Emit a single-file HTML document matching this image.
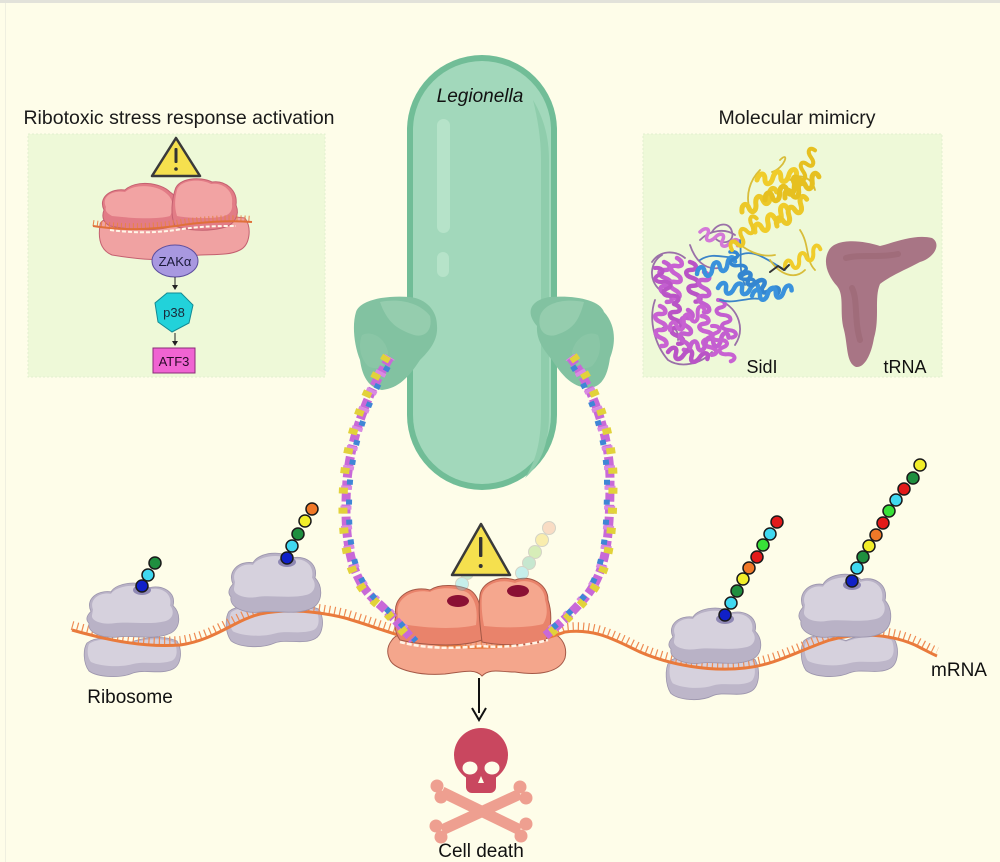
<!DOCTYPE html>
<html><head><meta charset="utf-8">
<style>
html,body{margin:0;padding:0;background:#fefde9;}
svg{display:block;}
text{font-family:"Liberation Sans",Arial,sans-serif;}
</style></head>
<body>
<svg width="1000" height="862" viewBox="0 0 1000 862" xmlns="http://www.w3.org/2000/svg">
<defs>
  <path id="coil" d="M0,0 c3,-7 9,-7 8,0 c-1,7 5,7 8,0 c3,-7 9,-7 8,0 c-1,7 5,7 8,0 c3,-7 9,-7 8,0" fill="none"/>
  <path id="grTop" d="M8,30 C2,18 14,8 28,10 C34,0 58,-2 66,6 C78,2 94,10 90,24 C98,32 98,46 88,52 C72,60 50,54 36,56 C20,58 4,52 6,42 C2,38 4,34 8,30 Z"/>
  <path id="grTopHi" d="M10,28 C6,18 16,10 28,12 C34,3 58,1 65,8 C77,4 90,11 87,24 C92,30 90,38 82,40 C66,44 46,40 32,42 C20,44 8,40 9,34 Z"/>
  <path id="grBot" d="M4,8 C14,0 32,4 46,8 C60,2 80,0 94,6 C100,16 98,30 90,34 C78,40 62,34 50,38 C36,44 14,42 6,36 C0,28 0,14 4,8 Z"/>
  <path id="grBotHi" d="M6,9 C16,2 32,5 46,9 C60,4 80,2 92,8 C95,16 94,24 88,26 C76,30 62,26 50,29 C36,33 16,31 8,27 C4,22 4,14 6,9 Z"/>
  <path id="pilL" d="M390,357 C370,390 352,430 347,480 C343,540 350,580 378,603 C392,615 402,628 413,640"/>
  <path id="pilR" d="M570,357 C595,390 610,440 610,480 C610,540 606,575 583,600 C570,615 555,628 545,636"/>
</defs>

<!-- background & frame -->
<rect x="0" y="0" width="1000" height="862" fill="#fefde9"/>
<rect x="0" y="0" width="1000" height="3" fill="#e2e2da"/>
<rect x="5" y="3" width="1" height="859" fill="#efefe0"/>

<!-- Titles -->
<text x="179" y="124" font-size="19.5" text-anchor="middle" fill="#1a1a1a">Ribotoxic stress response activation</text>
<text x="797" y="124" font-size="19.5" text-anchor="middle" fill="#1a1a1a">Molecular mimicry</text>

<!-- Panels -->
<rect x="28" y="134" width="297" height="243" fill="#eef9d8" stroke="#e3f0d0" stroke-width="1" stroke-dasharray="2 2"/>
<rect x="643" y="134" width="299" height="243" fill="#eef9d8" stroke="#e3f0d0" stroke-width="1" stroke-dasharray="2 2"/>

<!-- Left panel content -->
<polygon points="176,138 200,176 152,176" fill="#f5e04e" stroke="#3a3a3a" stroke-width="2.5" stroke-linejoin="round"/>
<rect x="174.5" y="148" width="3" height="15" fill="#333" rx="1"/>
<circle cx="176" cy="169" r="1.8" fill="#333"/>

<path d="M100,225 C100,215 130,217 150,218 C175,214 215,214 245,218 C252,228 250,245 240,250 C225,258 200,252 180,258 C160,262 130,258 112,255 C100,250 98,238 100,225 Z" fill="#f0a2a2" stroke="#c46070" stroke-width="1"/>
<path d="M104,210 C98,198 110,188 125,190 C135,180 160,182 170,192 C180,198 180,215 175,225 C160,232 130,230 110,226 C102,222 102,215 104,210 Z" fill="#e27c86" stroke="#c46070" stroke-width="1"/>
<path d="M106,207 C101,197 112,190 125,192 C135,183 158,185 167,194 C174,200 174,210 170,216 C155,220 130,218 112,216 C106,213 105,210 106,207 Z" fill="#f2a3a3"/>
<path d="M175,190 C178,178 200,176 212,182 C225,180 238,190 236,205 C240,215 235,225 222,228 C205,232 185,230 175,226 C170,215 172,200 175,190 Z" fill="#e27c86" stroke="#c46070" stroke-width="1"/>
<path d="M177,190 C180,180 200,178 211,184 C223,182 234,191 232,204 C233,212 228,216 220,217 C205,219 188,218 177,216 C174,206 175,198 177,190 Z" fill="#f2a3a3"/>
<path d="M93,226 C130,232 160,228 176,226 C200,222 230,220 252,222" fill="none" stroke="#e8824a" stroke-width="6" stroke-dasharray="1 3" transform="translate(0,-3)"/>
<path d="M93,226 C130,232 160,228 176,226 C200,222 230,220 252,222" fill="none" stroke="#e0703a" stroke-width="2"/>
<path d="M110,230 C140,234 160,232 176,230 C200,226 220,226 236,226" fill="none" stroke="#fff6e8" stroke-width="2" stroke-dasharray="4 2"/>

<ellipse cx="175" cy="261" rx="23" ry="16" fill="#a898e0" stroke="#5d4f9e" stroke-width="1"/>
<text x="175" y="266" font-size="13" text-anchor="middle" fill="#1a1a3a">ZAKα</text>
<line x1="175" y1="277" x2="175" y2="287" stroke="#222" stroke-width="1"/>
<polygon points="172,285 178,285 175,290" fill="#222"/>
<polygon points="181,293 193,305 189,323 172,332 158,322 155,303 167,293" fill="#22d2da" stroke="#138a94" stroke-width="1"/>
<text x="174" y="317" font-size="13" text-anchor="middle" fill="#1a2a3a">p38</text>
<line x1="175" y1="333" x2="175" y2="343" stroke="#222" stroke-width="1"/>
<polygon points="172,341 178,341 175,346" fill="#222"/>
<rect x="153" y="348" width="42" height="25" fill="#f064d2" stroke="#8a2a78" stroke-width="1"/>
<text x="174" y="366" font-size="13" text-anchor="middle" fill="#2a0a2a">ATF3</text>

<!-- Right panel: protein -->
<g fill="none" stroke-linecap="round" stroke-linejoin="round">
  <path d="M662,255 C650,262 648,280 660,290 M655,300 C648,320 655,345 668,360 C680,368 700,365 712,352 M700,240 C710,230 725,228 735,235 M712,232 C718,222 730,222 732,232 C735,242 722,246 715,238 M690,245 C695,260 705,270 718,268 M720,300 C740,310 745,330 735,345 M660,330 C668,322 680,328 678,340 M652,262 C660,250 675,250 685,258" stroke="#9a70a8" stroke-width="1.8"/>
  <use href="#coil" transform="translate(664,262) rotate(86)" stroke="#c35fd0" stroke-width="4.5"/>
  <use href="#coil" transform="translate(677,258) rotate(94)" stroke="#c862d2" stroke-width="4.5"/>
  <use href="#coil" transform="translate(690,262) rotate(82)" stroke="#b954c6" stroke-width="4.5"/>
  <use href="#coil" transform="translate(704,272) rotate(90)" stroke="#c35fd0" stroke-width="4.5"/>
  <use href="#coil" transform="translate(660,306) rotate(88)" stroke="#c862d2" stroke-width="4.5"/>
  <use href="#coil" transform="translate(674,304) rotate(84)" stroke="#b954c6" stroke-width="4.5"/>
  <use href="#coil" transform="translate(688,310) rotate(96)" stroke="#c35fd0" stroke-width="4.5"/>
  <use href="#coil" transform="translate(702,316) rotate(76)" stroke="#c862d2" stroke-width="4.5"/>
  <use href="#coil" transform="translate(668,352) rotate(10)" stroke="#b954c6" stroke-width="4.5"/>
  <use href="#coil" transform="translate(690,348) rotate(-15)" stroke="#c35fd0" stroke-width="4.5"/>
  <use href="#coil" transform="translate(712,326) rotate(62)" stroke="#c862d2" stroke-width="4"/>
  <use href="#coil" transform="translate(700,232) rotate(20)" stroke="#d478d8" stroke-width="3.5"/>
  <use href="#coil" transform="translate(655,268) rotate(60)" stroke="#b954c6" stroke-width="4"/>
  <use href="#coil" transform="translate(718,300) rotate(70)" stroke="#c35fd0" stroke-width="4"/>
  <use href="#coil" transform="translate(670,330) rotate(-30)" stroke="#c862d2" stroke-width="4"/>
  <path d="M700,260 C715,250 730,262 740,255 C755,248 770,262 785,270 M720,300 C735,305 750,295 765,300 M740,240 C742,255 738,270 745,285" stroke="#3b84c8" stroke-width="1.8"/>
  <use href="#coil" transform="translate(697,274) rotate(-18)" stroke="#3a92dc" stroke-width="4.5"/>
  <use href="#coil" transform="translate(718,288) rotate(2)" stroke="#3a92dc" stroke-width="4.5"/>
  <use href="#coil" transform="translate(742,275) rotate(28)" stroke="#3486d0" stroke-width="4.5"/>
  <use href="#coil" transform="translate(752,296) rotate(-8)" stroke="#3a92dc" stroke-width="4.5"/>
  <use href="#coil" transform="translate(730,252) rotate(58)" stroke="#3486d0" stroke-width="3.5"/>
  <path d="M780,160 C790,150 785,168 772,172 M760,170 C750,180 745,195 750,210 M800,230 C810,245 805,260 815,270 M735,240 C745,250 760,258 775,255 M790,180 C800,172 812,178 815,190 M770,260 C780,275 795,280 805,270" stroke="#d8bd3a" stroke-width="1.8"/>
  <use href="#coil" transform="translate(742,212) rotate(-30)" stroke="#ecc828" stroke-width="5"/>
  <use href="#coil" transform="translate(755,232) rotate(-36)" stroke="#f0cc2a" stroke-width="5"/>
  <use href="#coil" transform="translate(765,200) rotate(-24)" stroke="#e6c020" stroke-width="5"/>
  <use href="#coil" transform="translate(777,226) rotate(-42)" stroke="#ecc828" stroke-width="5"/>
  <use href="#coil" transform="translate(757,180) rotate(-8)" stroke="#f0cc2a" stroke-width="5"/>
  <use href="#coil" transform="translate(785,198) rotate(-32)" stroke="#e6c020" stroke-width="5"/>
  <use href="#coil" transform="translate(732,250) rotate(-52)" stroke="#ecc828" stroke-width="4"/>
  <use href="#coil" transform="translate(785,268) rotate(-28)" stroke="#f0cc2a" stroke-width="4"/>
  <use href="#coil" transform="translate(795,185) rotate(-60)" stroke="#e6c020" stroke-width="4"/>
  <path d="M770,272 l8,-6 l6,4 l5,-5" stroke="#333" stroke-width="2"/>
</g>
<!-- tRNA -->
<path d="M829,250 C836,238 862,240 880,246 C896,242 915,234 932,238 C942,244 934,258 920,262 C905,270 890,276 880,284 C874,298 880,318 874,338 C871,356 864,368 856,367 C846,363 848,346 844,330 C839,312 845,296 837,286 C828,276 822,262 829,250 Z" fill="#a87585"/>
<path d="M846,258 C860,254 880,258 898,254 M852,288 C858,300 854,320 860,340" fill="none" stroke="#98636f" stroke-width="6" opacity="0.5" stroke-linecap="round"/>
<text x="762" y="373" font-size="18" text-anchor="middle" fill="#111">SidI</text>
<text x="905" y="373" font-size="18" text-anchor="middle" fill="#111">tRNA</text>

<!-- Legionella -->
<rect x="407" y="55" width="150" height="435" rx="75" ry="75" fill="#71bd97"/>
<rect x="413" y="61" width="138" height="423" rx="69" ry="69" fill="#a2d8bb"/>
<path d="M533,100 C545,120 549,140 549,160 L549,415 C549,445 540,465 525,478 C540,455 541,430 541,410 L541,160 C541,140 538,120 533,100 Z" fill="#8fcdac"/>
<rect x="437" y="119" width="13" height="114" rx="6.5" fill="#b6e3c9"/>
<rect x="437" y="252" width="12" height="25" rx="6" fill="#b6e3c9"/>
<text x="480" y="102" font-size="19" font-style="italic" text-anchor="middle" fill="#111">Legionella</text>

<!-- Secretion systems (in front of body) -->
<g>
  <path d="M356,312 C360,300 385,295 410,297 C426,299 437,310 437,326 C438,340 430,350 420,360 C410,375 400,388 382,390 C368,388 362,375 360,360 C354,345 352,325 356,312 Z" fill="#82c2a1"/>
  <path d="M380,302 C400,298 420,303 430,316 C433,330 425,338 414,335 C400,330 388,325 380,302 Z" fill="#95cdae"/>
  <path d="M362,335 C372,330 385,338 388,352 C388,365 378,372 368,366 C360,358 358,345 362,335 Z" fill="#8ac6a6"/>
  <path d="M604,312 C600,300 575,295 550,297 C534,299 523,310 537,326 C536,340 544,350 552,360 C562,375 572,388 590,388 C604,386 608,372 610,358 C616,343 616,325 604,312 Z" fill="#82c2a1"/>
  <path d="M584,302 C564,298 544,303 540,316 C537,330 545,338 556,335 C570,330 578,325 584,302 Z" fill="#95cdae"/>
  <path d="M598,335 C588,330 575,338 572,352 C572,365 582,372 592,366 C600,358 602,345 598,335 Z" fill="#8ac6a6"/>
</g>

<!-- Gray ribosomes: bottom subunits -->
<g fill="#bdb6c9" stroke="#9c95ad" stroke-width="0.8">
  <use href="#grBot" transform="translate(83,635) scale(1.0,1.0)"/>
  <use href="#grBot" transform="translate(225,603) scale(1.0,1.05)"/>
  <use href="#grBot" transform="translate(665,653) scale(0.96,1.12)"/>
  <use href="#grBot" transform="translate(800,632) scale(1.0,1.07)"/>
</g>
<g fill="#d6d1dd">
  <use href="#grBotHi" transform="translate(83,635)"/>
  <use href="#grBotHi" transform="translate(225,603) scale(1.0,1.05)"/>
  <use href="#grBotHi" transform="translate(665,653) scale(0.96,1.12)"/>
  <use href="#grBotHi" transform="translate(800,632) scale(1.0,1.07)"/>
</g>

<!-- Center ribosome bottom -->
<path d="M392,640 C400,628 430,632 450,630 C465,628 475,632 480,636 C490,630 520,628 545,632 C560,632 568,645 565,658 C560,672 540,676 515,672 C500,672 490,668 482,676 C475,668 462,672 445,674 C420,676 395,670 390,660 C386,652 388,645 392,640 Z" fill="#f4a68c" stroke="#a45846" stroke-width="1"/>

<!-- mRNA -->
<path d="M72,630 C100,638 140,648 180,645 C215,640 235,620 260,614 C290,608 320,612 345,618 C380,628 410,642 450,646 C490,650 530,645 565,632 C595,628 615,640 640,652 C670,665 710,672 745,668 C775,665 800,650 830,640 C860,632 890,634 915,645 C925,650 932,654 937,656" fill="none" stroke="#ee8a52" stroke-width="9" stroke-dasharray="1.2 4" transform="translate(0,-4.5)"/>
<path d="M72,630 C100,638 140,648 180,645 C215,640 235,620 260,614 C290,608 320,612 345,618 C380,628 410,642 450,646 C490,650 530,645 565,632 C595,628 615,640 640,652 C670,665 710,672 745,668 C775,665 800,650 830,640 C860,632 890,634 915,645 C925,650 932,654 937,656" fill="none" stroke="#e97a3c" stroke-width="3"/>

<!-- Gray ribosomes: top subunits -->
<g fill="#b9b2c6" stroke="#9c95ad" stroke-width="0.8">
  <use href="#grTop" transform="translate(83,582) scale(1.0,0.98)"/>
  <use href="#grTop" transform="translate(225,552) scale(1.0,1.07)"/>
  <use href="#grTop" transform="translate(665,607) scale(1.0,1.0)"/>
  <use href="#grTop" transform="translate(795,573) scale(1.0,1.14)"/>
</g>
<g fill="#d6d1dd">
  <use href="#grTopHi" transform="translate(83,582) scale(1.0,0.98)"/>
  <use href="#grTopHi" transform="translate(225,552) scale(1.0,1.07)"/>
  <use href="#grTopHi" transform="translate(665,607) scale(1.0,1.0)"/>
  <use href="#grTopHi" transform="translate(795,573) scale(1.0,1.14)"/>
</g>

<!-- Peptide beads -->
<g stroke="#1a1a1a" stroke-width="1.5">
  <ellipse cx="142" cy="590" rx="9" ry="5" fill="#8f88b4" stroke="none"/>
  <circle cx="155" cy="563" r="6" fill="#1f8f3f"/>
  <circle cx="148" cy="575" r="6" fill="#40d8f0"/>
  <circle cx="142" cy="586" r="6" fill="#1020c8"/>

  <ellipse cx="287" cy="562" rx="9" ry="5" fill="#8f88b4" stroke="none"/>
  <circle cx="312" cy="509" r="6" fill="#f07828"/>
  <circle cx="305" cy="521" r="6" fill="#f2ee2a"/>
  <circle cx="298" cy="534" r="6" fill="#1f8f3f"/>
  <circle cx="292" cy="546" r="6" fill="#40d8f0"/>
  <circle cx="287" cy="558" r="6" fill="#1020c8"/>

  <ellipse cx="725" cy="619" rx="9" ry="5" fill="#8f88b4" stroke="none"/>
  <circle cx="777" cy="522" r="6" fill="#e21a1a"/>
  <circle cx="770" cy="534" r="6" fill="#40d8f0"/>
  <circle cx="763" cy="545" r="6" fill="#38e038"/>
  <circle cx="757" cy="557" r="6" fill="#e21a1a"/>
  <circle cx="749" cy="568" r="6" fill="#f07828"/>
  <circle cx="743" cy="579" r="6" fill="#f2ee2a"/>
  <circle cx="737" cy="591" r="6" fill="#1f8f3f"/>
  <circle cx="731" cy="603" r="6" fill="#40d8f0"/>
  <circle cx="725" cy="615" r="6" fill="#1020c8"/>

  <ellipse cx="852" cy="585" rx="9" ry="5" fill="#8f88b4" stroke="none"/>
  <circle cx="920" cy="465" r="6" fill="#f2ee2a"/>
  <circle cx="913" cy="478" r="6" fill="#1f8f3f"/>
  <circle cx="904" cy="489" r="6" fill="#e21a1a"/>
  <circle cx="896" cy="500" r="6" fill="#40d8f0"/>
  <circle cx="889" cy="511" r="6" fill="#38e038"/>
  <circle cx="883" cy="523" r="6" fill="#e21a1a"/>
  <circle cx="876" cy="535" r="6" fill="#f07828"/>
  <circle cx="869" cy="546" r="6" fill="#f2ee2a"/>
  <circle cx="863" cy="557" r="6" fill="#1f8f3f"/>
  <circle cx="857" cy="568" r="6" fill="#40d8f0"/>
  <circle cx="852" cy="581" r="6" fill="#1020c8"/>
</g>

<!-- Center ribosome top subunits -->
<path d="M396,615 C392,598 410,585 430,590 C440,583 460,585 470,590 C480,596 484,615 482,640 C460,648 420,645 400,640 C394,632 394,622 396,615 Z" fill="#e9836b" stroke="#a45846" stroke-width="1"/>
<path d="M398,614 C395,600 411,588 430,592 C440,586 459,588 468,593 C476,600 478,612 476,625 C455,630 425,628 402,624 C398,620 397,617 398,614 Z" fill="#f5a78e"/>
<path d="M480,595 C482,582 500,575 515,580 C530,574 548,584 548,600 C552,612 552,628 546,640 C530,646 500,646 482,642 C480,625 478,610 480,595 Z" fill="#e9836b" stroke="#a45846" stroke-width="1"/>
<path d="M482,596 C484,584 500,578 515,583 C529,577 545,586 545,600 C548,610 547,618 543,624 C528,628 503,628 484,626 C482,615 481,605 482,596 Z" fill="#f5a78e"/>
<path d="M400,642 C430,650 460,648 480,646 C500,648 525,646 548,640" fill="none" stroke="#fff4e6" stroke-width="2.5" stroke-dasharray="5 2"/>
<ellipse cx="458" cy="601" rx="11" ry="6" fill="#8b1034"/>
<ellipse cx="518" cy="591" rx="11" ry="6" fill="#8b1034"/>
<!-- faded beads -->
<g opacity="0.35" stroke="#888" stroke-width="1">
  <circle cx="549" cy="528" r="6.5" fill="#f0a080"/>
  <circle cx="542" cy="540" r="6.5" fill="#f0d040"/>
  <circle cx="535" cy="552" r="6.5" fill="#90d060"/>
  <circle cx="529" cy="563" r="6.5" fill="#60c0a0"/>
  <circle cx="522" cy="573" r="6.5" fill="#60d8f0"/>
  <circle cx="482" cy="550" r="6.5" fill="#f0c040"/>
  <circle cx="473" cy="562" r="6.5" fill="#90d060"/>
  <circle cx="467" cy="573" r="6.5" fill="#60c0a0"/>
  <circle cx="462" cy="584" r="6.5" fill="#60d8f0"/>
</g>
<!-- center warning -->
<polygon points="481,524 510,575 452,575" fill="#f5e04e" stroke="#3a3a3a" stroke-width="2.5" stroke-linejoin="round"/>
<rect x="479" y="537" width="3.4" height="20" fill="#333" rx="1"/>
<circle cx="480.7" cy="566" r="2" fill="#333"/>

<!-- Pili -->
<g fill="none">
  <use href="#pilL" stroke="#c869d8" stroke-width="9" stroke-dasharray="9 3"/>
  <use href="#pilL" stroke="#d98ae2" stroke-width="11" stroke-dasharray="4 16" stroke-dashoffset="3"/>
  <use href="#pilL" stroke="#e2d23a" stroke-width="9" stroke-dasharray="6 14" transform="translate(-3,-1)"/>
  <use href="#pilL" stroke="#3f86d6" stroke-width="6" stroke-dasharray="5 15" stroke-dashoffset="10" transform="translate(3,1)"/>
  <use href="#pilR" stroke="#c869d8" stroke-width="9" stroke-dasharray="9 3"/>
  <use href="#pilR" stroke="#d98ae2" stroke-width="11" stroke-dasharray="4 16" stroke-dashoffset="3"/>
  <use href="#pilR" stroke="#e2d23a" stroke-width="9" stroke-dasharray="6 14" transform="translate(3,-1)"/>
  <use href="#pilR" stroke="#3f86d6" stroke-width="6" stroke-dasharray="5 15" stroke-dashoffset="10" transform="translate(-3,1)"/>
</g>

<!-- Labels -->
<text x="130" y="703" font-size="19" text-anchor="middle" fill="#111">Ribosome</text>
<text x="959" y="676" font-size="19" text-anchor="middle" fill="#111">mRNA</text>

<!-- Arrow to death -->
<line x1="479" y1="678" x2="479" y2="713" stroke="#111" stroke-width="2"/>
<path d="M472,708 L479,720 L486,708" fill="none" stroke="#111" stroke-width="2"/>

<!-- Skull and crossbones -->
<g fill="#ee9f90">
  <line x1="442" y1="792" x2="520" y2="830" stroke="#ee9f90" stroke-width="11"/>
  <circle cx="437" cy="786" r="6.5"/><circle cx="441" cy="797" r="6.5"/>
  <circle cx="521" cy="836" r="6.5"/><circle cx="526" cy="824" r="6.5"/>
  <line x1="520" y1="794" x2="442" y2="830" stroke="#ee9f90" stroke-width="11"/>
  <circle cx="520" cy="787" r="6.5"/><circle cx="526" cy="798" r="6.5"/>
  <circle cx="436" cy="826" r="6.5"/><circle cx="441" cy="837" r="6.5"/>
</g>
<ellipse cx="481" cy="755" rx="27" ry="27" fill="#c9475f"/>
<rect x="466" y="770" width="30" height="23" rx="6" fill="#c9475f"/>
<ellipse cx="470" cy="768" rx="7.5" ry="6.5" fill="#fefde9"/>
<ellipse cx="492" cy="768" rx="7.5" ry="6.5" fill="#fefde9"/>
<path d="M481,776 L478,783 L484,783 Z" fill="#fefde9"/>
<text x="481" y="857" font-size="19" text-anchor="middle" fill="#111">Cell death</text>
</svg>
</body></html>
